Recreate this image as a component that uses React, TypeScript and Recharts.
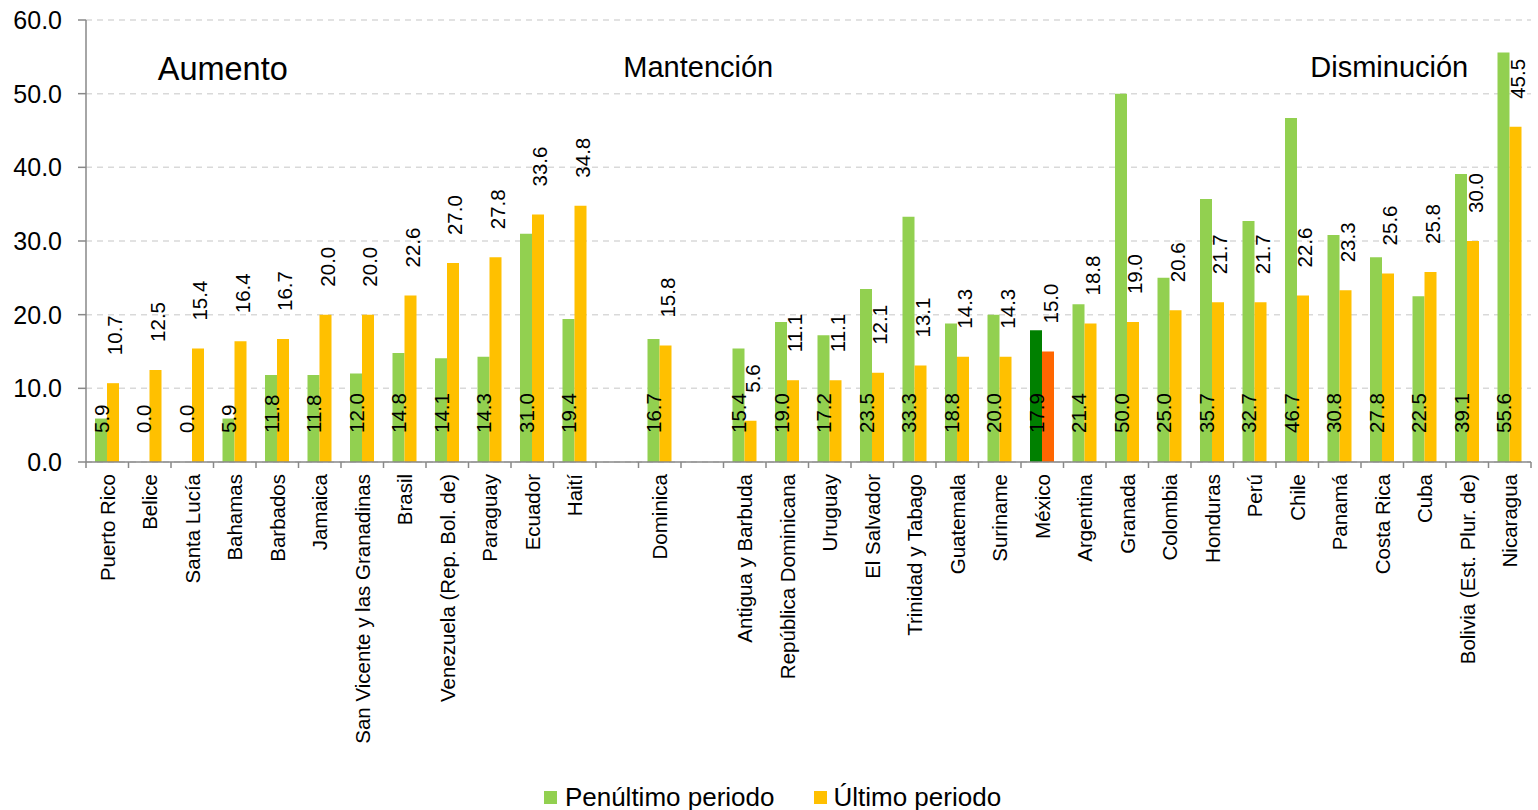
import React from 'react';
import { BarChart, Bar, XAxis, YAxis, CartesianGrid, Legend, LabelList, Cell, ReferenceDot } from 'recharts';

const countries = [
  'Puerto Rico', 'Belice', 'Santa Lucía', 'Bahamas', 'Barbados', 'Jamaica',
  'San Vicente y las Granadinas', 'Brasil', 'Venezuela (Rep. Bol. de)', 'Paraguay',
  'Ecuador', 'Haití', ' ', 'Dominica', '  ', 'Antigua y Barbuda', 'República Dominicana',
  'Uruguay', 'El Salvador', 'Trinidad y Tabago', 'Guatemala', 'Suriname', 'México',
  'Argentina', 'Granada', 'Colombia', 'Honduras', 'Perú', 'Chile', 'Panamá',
  'Costa Rica', 'Cuba', 'Bolivia (Est. Plur. de)', 'Nicaragua',
];

const penultimo = [
  5.9, 0.0, 0.0, 5.9, 11.8, 11.8, 12.0, 14.8, 14.1, 14.3, 31.0, 19.4, null, 16.7, null,
  15.4, 19.0, 17.2, 23.5, 33.3, 18.8, 20.0, 17.9, 21.4, 50.0, 25.0, 35.7, 32.7, 46.7,
  30.8, 27.8, 22.5, 39.1, 55.6,
];

const ultimo = [
  10.7, 12.5, 15.4, 16.4, 16.7, 20.0, 20.0, 22.6, 27.0, 27.8, 33.6, 34.8, null, 15.8, null,
  5.6, 11.1, 11.1, 12.1, 13.1, 14.3, 14.3, 15.0, 18.8, 19.0, 20.6, 21.7, 21.7, 22.6,
  23.3, 25.6, 25.8, 30.0, 45.5,
];

const yTicks = [0, 10, 20, 30, 40, 50, 60];

const highlight = 'México';

const data = countries.map((c, i) => ({ name: c, penultimo: penultimo[i], ultimo: ultimo[i] }));

const FONT = '"Liberation Sans", Arial, sans-serif';
const BAND = 42.5;

const CategoryTick = (props: any) => {
  const { x, y, payload, index } = props;
  const last = index === countries.length - 1;
  return (
    <g>
      <line x1={x - BAND / 2} x2={x - BAND / 2} y1={y - 8} y2={y - 2} stroke="#898989" strokeWidth={1.5} />
      {last && <line x1={x + BAND / 2} x2={x + BAND / 2} y1={y - 8} y2={y - 2} stroke="#898989" strokeWidth={1.5} />}
      <text
        x={x}
        y={y + 4}
        transform={`rotate(-90, ${x}, ${y + 4})`}
        textAnchor="end"
        dominantBaseline="central"
        fontSize={20.5}
        fontFamily={FONT}
        fill="#000"
      >
        {payload.value.trim()}
      </text>
    </g>
  );
};

// green labels sit at the foot of the green bar; drawn from the orange bar so 0.0 values still show
const GreenLabel = (props: any) => {
  const { x, y, width, height, value } = props;
  if (value === null || value === undefined) return null;
  const cx = x - width / 2;
  const cy = y + height - 29;
  return (
    <text x={cx} y={cy} transform={`rotate(-90, ${cx}, ${cy})`} textAnchor="start" dominantBaseline="central"
      fontSize={20.5} fontFamily={FONT} fill="#000">
      {Number(value).toFixed(1)}
    </text>
  );
};

const OrangeLabel = (props: any) => {
  const { x, y, width, value } = props;
  if (value === null || value === undefined) return null;
  const cx = x + width / 2 + 2;
  const cy = y - 28;
  return (
    <text x={cx} y={cy} transform={`rotate(-90, ${cx}, ${cy})`} textAnchor="start" dominantBaseline="central"
      fontSize={20.5} fontFamily={FONT} fill="#000">
      {Number(value).toFixed(1)}
    </text>
  );
};

const renderLegend = () => (
  <div style={{ display: 'flex', justifyContent: 'center', alignItems: 'center', fontFamily: FONT, fontSize: 26, color: '#000', paddingLeft: 14, transform: 'translateY(3px)' }}>
    <span style={{ display: 'inline-block', width: 13, height: 13, background: '#92D050', marginRight: 8 }} />
    <span style={{ marginRight: 40 }}>Penúltimo periodo</span>
    <span style={{ display: 'inline-block', width: 13, height: 13, background: '#FFC000', marginRight: 6 }} />
    <span>Último periodo</span>
  </div>
);

const Note = (props: any) => {
  const { viewBox, text, dx, size } = props;
  const cx = viewBox.x + viewBox.width / 2 + dx;
  const cy = viewBox.y + viewBox.height / 2;
  return (
    <text x={cx} y={cy} textAnchor="middle" dominantBaseline="central" fontSize={size} fontFamily={FONT} fill="#000">
      {text}
    </text>
  );
};

const App = () => {
  return (
    <div style={{ position: 'absolute', left: 0, top: 0, background: '#fff' }}>
      <BarChart
        width={1538}
        height={810}
        data={data}
        margin={{ top: 20, right: 7, left: 0, bottom: 0 }}
        barSize={12}
        barGap={0}
      >
        <CartesianGrid vertical={false} stroke="#D9D9D9" strokeDasharray="6 5" strokeWidth={1.5} />
        <XAxis
          dataKey="name"
          interval={0}
          height={317}
          tick={<CategoryTick />}
          tickLine={false}
          axisLine={{ stroke: '#898989', strokeWidth: 1.5 }}
        />
        <YAxis
          width={86}
          domain={[0, 60]}
          ticks={yTicks}
          interval={0}
          tickFormatter={(v: number) => v.toFixed(1)}
          tick={{ fontSize: 25, fontFamily: FONT, fill: '#000' }}
          tickSize={8}
          tickMargin={16}
          tickLine={{ stroke: '#898989', strokeWidth: 1.5 }}
          axisLine={{ stroke: '#898989', strokeWidth: 1.5 }}
        />
        <Legend verticalAlign="bottom" content={renderLegend} />
        <Bar dataKey="penultimo" fill="#92D050" isAnimationActive={false}>
          {data.map((d) => (
            <Cell key={d.name} fill={d.name === highlight ? '#008000' : '#92D050'} />
          ))}
        </Bar>
        <Bar dataKey="ultimo" fill="#FFC000" isAnimationActive={false}>
          {data.map((d) => (
            <Cell key={d.name} fill={d.name === highlight ? '#FF6600' : '#FFC000'} />
          ))}
          <LabelList dataKey="penultimo" content={<GreenLabel />} />
          <LabelList dataKey="ultimo" content={<OrangeLabel />} />
        </Bar>
        <ReferenceDot x="Bahamas" y={53.3} r={0} fill="none" stroke="none" label={<Note text="Aumento" dx={-12} size={32.5} />} />
        <ReferenceDot x="  " y={53.6} r={0} fill="none" stroke="none" label={<Note text="Mantención" dx={-4} size={29} />} />
        <ReferenceDot x="Costa Rica" y={53.6} r={0} fill="none" stroke="none" label={<Note text="Disminución" dx={7} size={29} />} />
      </BarChart>
    </div>
  );
};

export default App;
